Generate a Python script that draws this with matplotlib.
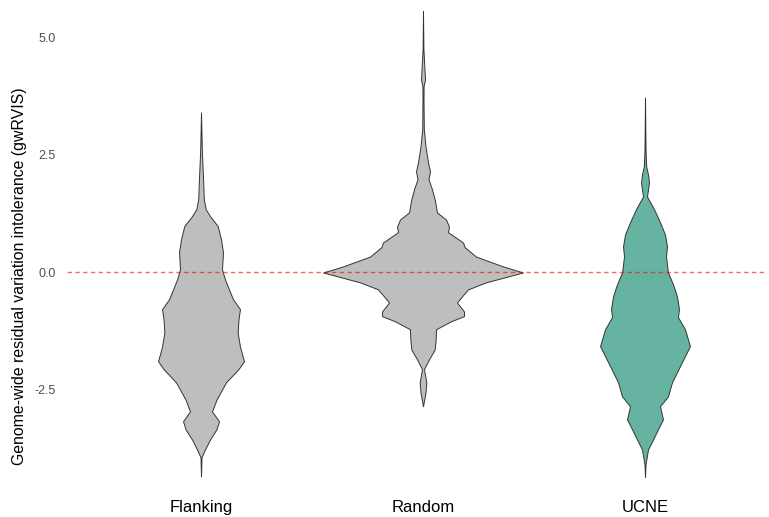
import numpy as np
import matplotlib
matplotlib.use("Agg")
import matplotlib.pyplot as plt

plt.rcParams["font.family"] = ["Liberation Sans", "DejaVu Sans"]

# categories and fill colours
groups = ["Flanking", "Random", "UCNE"]
fills = ["#BEBEBE", "#BEBEBE", "#67B3A2"]

# violin outlines: gwRVIS value and relative density (half width)
flank_y = [3.40, 2.61, 2.25, 1.91, 1.55, 1.34, 1.19, 0.98, 0.70, 0.42, 0.06, -0.16,
           -0.58, -0.79, -1.01, -1.29, -1.59, -1.90, -2.07, -2.35, -2.72, -2.97,
           -3.18, -3.35, -3.57, -3.78, -3.95, -4.36]
flank_d = [0.0, 0.8, 1.5, 2.2, 2.8, 4.7, 9.0, 16.7, 20.0, 22.0, 21.0, 24.0,
           32.0, 39.0, 37.5, 36.7, 39.0, 43.0, 37.5, 25.0, 15.5, 11.0,
           18.0, 15.5, 9.0, 4.0, 0.5, 0.0]

rand_y = [5.56, 4.75, 4.10, 3.96, 3.68, 3.04, 2.68, 2.34, 2.14, 1.98, 1.76, 1.55,
          1.27, 1.12, 0.97, 0.85, 0.63, 0.53, 0.33, 0.12, -0.01, -0.22, -0.37,
          -0.52, -0.65, -0.84, -0.94, -1.05, -1.22, -1.43, -1.65, -1.86, -2.07,
          -2.35, -2.57, -2.86]
rand_d = [0.0, 0.4, 2.0, 0.6, 0.5, 0.8, 2.5, 5.0, 7.0, 5.5, 9.0, 11.7,
          14.0, 23.0, 26.0, 25.0, 40.0, 41.7, 53.0, 80.0, 100.0, 63.0, 45.0,
          39.0, 34.0, 41.0, 41.0, 28.0, 13.0, 12.7, 11.7, 6.0, 1.0,
          3.3, 2.5, 0.0]

ucne_y = [3.72, 2.61, 2.25, 2.08, 1.91, 1.61, 1.34, 1.06, 0.80, 0.55, 0.33, -0.01,
          -0.26, -0.52, -0.79, -0.96, -1.22, -1.58, -1.92, -2.35, -2.65, -2.86,
          -3.14, -3.35, -3.57, -3.78, -4.10, -4.37]
ucne_d = [0.0, 0.5, 1.2, 3.0, 4.0, 2.0, 9.0, 15.0, 20.0, 22.0, 21.0, 23.0,
          28.0, 32.0, 34.0, 33.0, 40.0, 45.0, 37.0, 27.0, 23.0, 15.0,
          18.0, 13.0, 8.0, 3.0, 0.5, 0.0]

profiles = [(flank_y, flank_d), (rand_y, rand_d), (ucne_y, ucne_d)]
yticks = [-2.5, 0.0, 2.5, 5.0]

fig = plt.figure(figsize=(7.69, 5.17), dpi=100)
W, H = 769, 517
ax = fig.add_axes([66.7 / W, 1 - 490 / H, (766 - 66.7) / W, (490 - 5) / H])

# widest violin gets half width 0.45 (width 0.9), like ggplot scale = "area"
dmax = max(max(d) for _, d in profiles)
for i, ((y, d), col) in enumerate(zip(profiles, fills)):
    pos = i + 1
    y = np.array(y)
    w = np.array(d) / dmax * 0.45
    ax.fill_betweenx(y, pos - w, pos + w, facecolor=col, edgecolor="#333333",
                     linewidth=0.7, zorder=2)

ax.axhline(0.0, color="red", alpha=0.6, linewidth=1.0, dashes=(3.2, 2.4), zorder=3)

ax.set_xlim(0.395, 3.545)
ax.set_ylim(-4.645, 5.69)
ax.set_xticks([1, 2, 3])
ax.set_xticklabels(groups, fontsize=12, color="black")
ax.set_yticks(yticks)
ax.set_yticklabels([f"{t:.1f}" for t in yticks], fontsize=9, color="#4D4D4D")
ax.tick_params(axis="both", length=0)
ax.tick_params(axis="y", pad=8)
ax.tick_params(axis="x", pad=7)
for s in ax.spines.values():
    s.set_visible(False)

ax.set_ylabel("Genome-wide residual variation intolerance (gwRVIS)", fontsize=11.4,
              va="center")
ax.yaxis.set_label_coords((20 - 66.7) / (766 - 66.7), (490 - 276.5) / (490 - 5))

fig.savefig("out.png", dpi=100)
